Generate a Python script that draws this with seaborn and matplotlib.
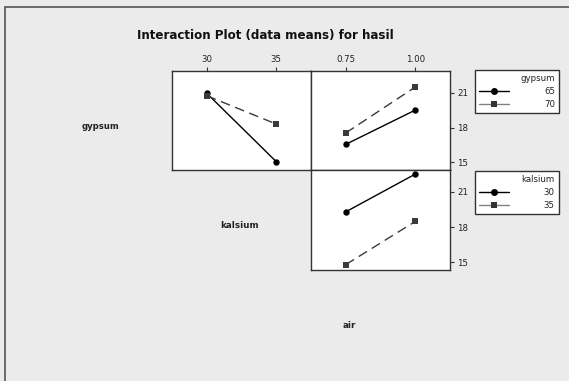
import numpy as np
import pandas as pd
import matplotlib
matplotlib.use("Agg")
import matplotlib.pyplot as plt
from matplotlib.lines import Line2D
import seaborn as sns

# ---- data ----
kalsium_levels = [30, 35]
air_levels = [0.75, 1.00]
gypsum_levels = [65, 70]

# panel: x = kalsium, lines = gypsum
gyp65_by_kalsium = [20.95, 15.06]
gyp70_by_kalsium = [20.74, 18.30]
# panel: x = air, lines = gypsum
gyp65_by_air = [16.55, 19.50]
gyp70_by_air = [17.53, 21.49]
# panel: x = air, lines = kalsium
kal30_by_air = [19.30, 22.52]
kal35_by_air = [14.80, 18.48]

ytick_vals = [15, 18, 21]

sns.set_theme(style="white")
plt.rcParams['font.family'] = ['DejaVu Sans']

W, H = 569, 381
fig = plt.figure(figsize=(W / 100, H / 100), dpi=100)
fig.patch.set_facecolor('#ebebeb')

def ax_px(x0, y0, x1, y1):
    return fig.add_axes([x0 / W, 1 - y1 / H, (x1 - x0) / W, (y1 - y0) / H])

def long_df(xvals, s1, s2, levels, xname, hname):
    rows = []
    for lvl, ser in zip(levels, [s1, s2]):
        for xv, yv in zip(xvals, ser):
            rows.append({xname: xv, hname: str(lvl), 'hasil': yv})
    return pd.DataFrame(rows)

palette = ['#000000', '#3a3a3a']
marker_list = ['o', 's']
dash_list = ['', (7, 4)]

def draw(ax, df, xname, hname, xlim, xticks, xticklabels, top_ticks, right_ticks):
    sns.lineplot(data=df, x=xname, y='hasil', hue=hname, style=hname,
                 palette=palette, markers=marker_list, dashes=dash_list,
                 markersize=4.6, markeredgewidth=0, linewidth=1.0,
                 legend=False, ax=ax)
    ax.set_facecolor('white')
    ax.set_xlim(*xlim)
    ax.set_ylim(14.34, 22.87)
    ax.set_xlabel('')
    ax.set_ylabel('')
    for sp in ax.spines.values():
        sp.set_color('#333333')
        sp.set_linewidth(1.0)
    ax.set_xticks(xticks)
    ax.set_yticks(ytick_vals)
    ax.tick_params(axis='both', which='both', length=3, width=0.8, color='#333333',
                   labelsize=6.2, labelcolor='#222222', pad=2)
    if top_ticks:
        ax.xaxis.tick_top()
        ax.set_xticklabels(xticklabels)
    else:
        ax.tick_params(axis='x', bottom=False, top=False, labelbottom=False, labeltop=False)
    if right_ticks:
        ax.yaxis.tick_right()
        ax.set_yticklabels([str(v) for v in ytick_vals])
    else:
        ax.tick_params(axis='y', left=False, right=False, labelleft=False, labelright=False)

ax1 = ax_px(172, 71, 311, 170)
ax2 = ax_px(311, 71, 450, 170)
ax3 = ax_px(311, 170, 450, 270)

df1 = long_df(kalsium_levels, gyp65_by_kalsium, gyp70_by_kalsium, gypsum_levels, 'kalsium', 'gypsum')
df2 = long_df(air_levels, gyp65_by_air, gyp70_by_air, gypsum_levels, 'air', 'gypsum')
df3 = long_df(air_levels, kal30_by_air, kal35_by_air, kalsium_levels, 'air', 'kalsium')

draw(ax1, df1, 'kalsium', 'gypsum', (27.5, 37.5), kalsium_levels, ['30', '35'], True, False)
draw(ax2, df2, 'air', 'gypsum', (0.625, 1.125), air_levels, ['0.75', '1.00'], True, True)
draw(ax3, df3, 'air', 'kalsium', (0.625, 1.125), air_levels, ['0.75', '1.00'], False, True)

# title and factor labels
fig.text(265 / W, 1 - 35 / H, 'Interaction Plot (data means) for hasil',
         ha='center', va='center', fontsize=8.6, fontweight='bold', color='#111111')
fig.text(100 / W, 1 - 126 / H, 'gypsum', ha='center', va='center', fontsize=6.1,
         fontweight='bold', color='#222222')
fig.text(240 / W, 1 - 226 / H, 'kalsium', ha='center', va='center', fontsize=6.3,
         fontweight='bold', color='#222222')
fig.text(349 / W, 1 - 326 / H, 'air', ha='center', va='center', fontsize=6.3,
         fontweight='bold', color='#222222')

# legends
def make_legend(title, labels, x0, y0):
    handles = [
        Line2D([], [], color='#000000', linewidth=1.0, marker='o', markersize=5,
               markerfacecolor='#000000', markeredgewidth=0),
        Line2D([], [], color='#808080', linewidth=1.0, marker='s', markersize=4.2,
               markerfacecolor='#333333', markeredgewidth=0),
    ]
    leg = fig.legend(handles, labels, title=title, loc='upper left',
                     bbox_to_anchor=(x0 / W, 1 - y0 / H),
                     fontsize=6.2, title_fontsize=6.2,
                     frameon=True, fancybox=False, framealpha=1.0,
                     handlelength=3.4, borderaxespad=0, borderpad=0.5,
                     labelspacing=0.45, alignment='right', handletextpad=4.1)
    fr = leg.get_frame()
    fr.set_edgecolor('#333333')
    fr.set_facecolor('white')
    fr.set_linewidth(1.0)
    for t in leg.get_texts():
        t.set_color('#222222')
    leg.get_title().set_color('#222222')
    return leg

make_legend('gypsum', ['65', '70'], 475, 70)
make_legend('kalsium', ['30', '35'], 475, 171)

# outer frame lines (left and top)
fig.add_artist(Line2D([5 / W, 5 / W], [0, 1 - 7 / H], transform=fig.transFigure,
                      color='#555555', linewidth=1.2))
fig.add_artist(Line2D([5 / W, 1], [1 - 7 / H, 1 - 7 / H], transform=fig.transFigure,
                      color='#555555', linewidth=1.2))

fig.savefig('out.png', dpi=100, facecolor=fig.get_facecolor())
